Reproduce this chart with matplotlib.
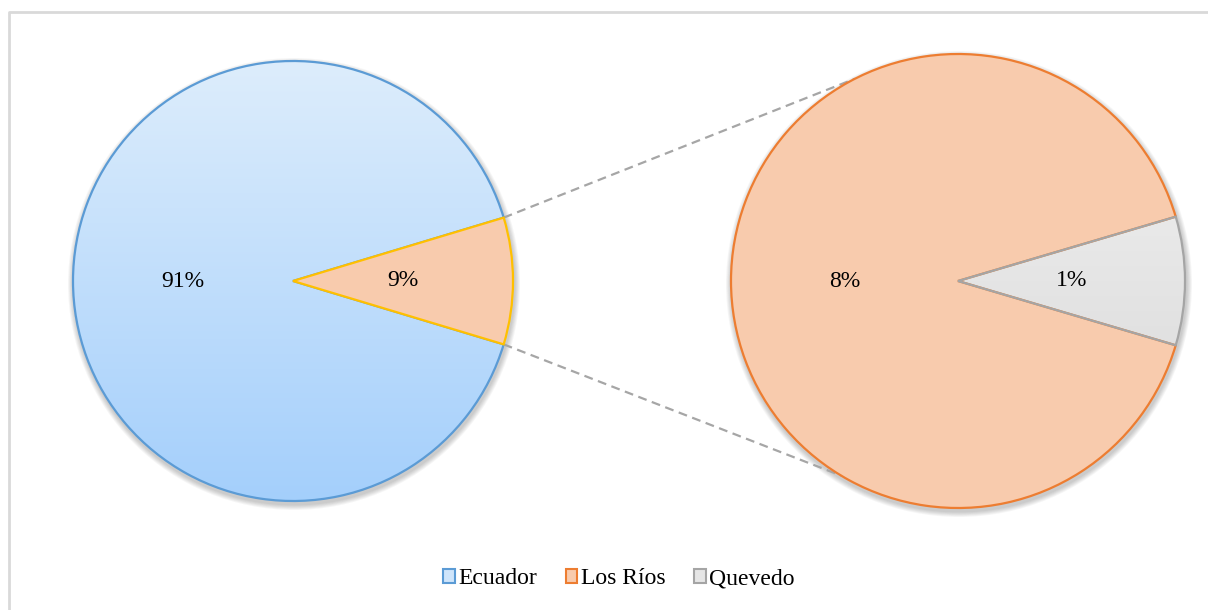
import numpy as np
import matplotlib
matplotlib.use("Agg")
import matplotlib.pyplot as plt
from matplotlib.patches import Patch, Circle
from matplotlib.colors import LinearSegmentedColormap

plt.rcParams['font.family'] = ['Liberation Serif', 'DejaVu Serif']

# data (percent of total)
labels = ["Ecuador", "Los Ríos", "Quevedo"]
ecuador = 90.7
los_rios = 8.45
quevedo = 0.85
split = los_rios + quevedo

W, H = 1208, 610
fig = plt.figure(figsize=(W / 100, H / 100), dpi=100)
ax = fig.add_axes([0, 0, 1, 1])
ax.set_xlim(0, W)
ax.set_ylim(0, H)
ax.set_aspect('equal')
ax.axis('off')

# chart frame (only top and left edges visible)
ax.plot([8.5, 8.5, W + 5], [-5, H - 11.5, H - 11.5], color='#d9d9d9', lw=2, zorder=0)

c1, r1 = (293, 329), 220
c2, r2 = (958, 329), 227


def shadow(center, r):
    for k in range(6):
        ax.add_patch(Circle((center[0] + 1, center[1] - 3), r + 1.5 + k * 0.9,
                            color='black', alpha=0.035, lw=0, zorder=1))


def gradient_fill(wedge, top, bottom, center, r):
    wedge.set_facecolor('none')
    cmap = LinearSegmentedColormap.from_list('g', [bottom, top])
    grad = np.linspace(0, 1, 256).reshape(-1, 1)
    im = ax.imshow(grad, cmap=cmap, origin='lower', aspect='auto',
                   extent=[center[0] - r, center[0] + r, center[1] - r, center[1] + r],
                   zorder=2)
    im.set_clip_path(wedge)


shadow(c1, r1)
shadow(c2, r2)

# first pie: Los Ríos + Quevedo split out, centred at 0 deg
w1, t1, a1 = ax.pie([split, ecuador], center=c1, radius=r1, startangle=-split / 100 * 180,
                    autopct=lambda p: f"{p:.0f}%", pctdistance=0.5,
                    textprops=dict(fontsize=17, color='black'),
                    wedgeprops=dict(linewidth=1.6), frame=True)
w1[0].set_facecolor('#f8cbad')
w1[0].set_edgecolor('#ffc000')
w1[1].set_edgecolor('#5b9bd5')
w1[0].set_zorder(4)
w1[1].set_zorder(3)
gradient_fill(w1[1], '#ddedfc', '#a4cffb', c1, r1)

# second pie
w2, t2, a2 = ax.pie([quevedo, los_rios], center=c2, radius=r2, startangle=-quevedo / split * 180,
                    autopct=lambda p: f"{p * split / 100:.0f}%", pctdistance=0.5,
                    textprops=dict(fontsize=17, color='black'),
                    wedgeprops=dict(linewidth=1.6), frame=True)
w2[0].set_edgecolor('#a5a5a5')
w2[1].set_facecolor('#f8cbad')
w2[1].set_edgecolor('#ed7d31')
w2[0].set_zorder(4)
w2[1].set_zorder(3)
gradient_fill(w2[0], '#f4f4f4', '#d6d6d6', c2, r2)
for t in list(a1) + list(a2):
    t.set_zorder(6)

ax.set_xlim(0, W)
ax.set_ylim(0, H)
ax.axis('off')

# connector lines
half = split / 100 * 180
for sgn, ang2 in [(1, 117), (-1, -121)]:
    x0 = c1[0] + r1 * np.cos(np.radians(sgn * half))
    y0 = c1[1] + r1 * np.sin(np.radians(sgn * half))
    x1 = c2[0] + r2 * np.cos(np.radians(ang2))
    y1 = c2[1] + r2 * np.sin(np.radians(ang2))
    ax.plot([x0, x1], [y0, y1], color='#a6a6a6', lw=1.6, ls=(0, (4, 2.5)), zorder=1.5)

handles = [Patch(facecolor='#cfe5fb', edgecolor='#5b9bd5', lw=1.5),
           Patch(facecolor='#f8cbad', edgecolor='#ed7d31', lw=1.5),
           Patch(facecolor='#e6e6e6', edgecolor='#a5a5a5', lw=1.5)]
fig.legend(handles, labels, loc='center', bbox_to_anchor=(619 / W, 1 - 579 / H), ncol=3,
           frameon=False, fontsize=17, handlelength=0.5, handleheight=0.5,
           handletextpad=0.15, columnspacing=1.2)

fig.savefig("out.png", dpi=100)
